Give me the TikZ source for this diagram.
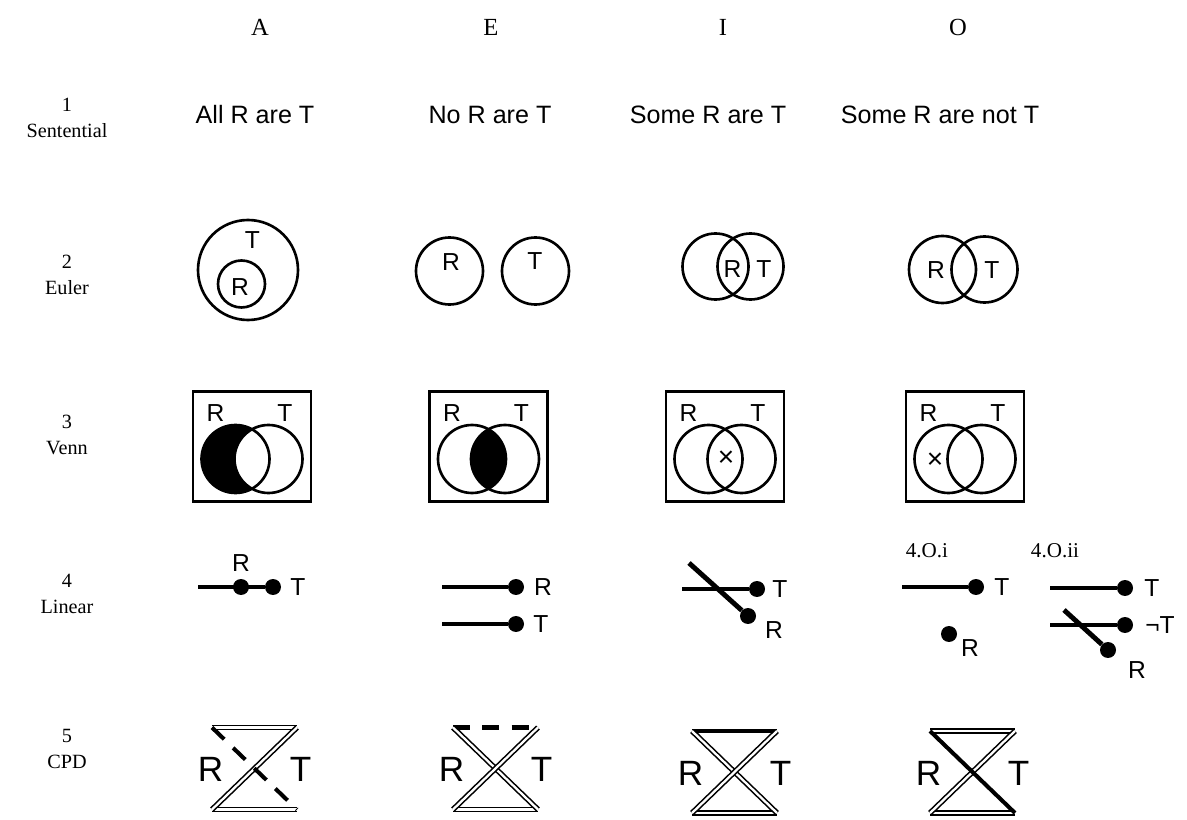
\documentclass[tikz,border=0pt]{standalone}
\usepackage{fontspec}
\setmainfont{Liberation Serif}
\setsansfont{Liberation Sans}
\usetikzlibrary{positioning}

\begin{document}
\begin{tikzpicture}[x=0.02cm, y=-0.02cm,
  hdr/.style={font=\fontsize{14}{16}\selectfont},
  rowlbl/.style={align=center, font=\fontsize{11.5}{14.5}\selectfont},
  stmt/.style={font=\sffamily\fontsize{14.3}{16}\selectfont},
  lbl/.style={inner sep=0pt, font=\sffamily\fontsize{14}{16}\selectfont},
  big/.style={inner sep=0pt, font=\sffamily\fontsize{20}{22}\selectfont},
  sub/.style={inner sep=0pt, font=\fontsize{12}{14}\selectfont},
  ring/.style={line width=1.5pt},
  frame/.style={line width=1.4pt},
  dot/.style={circle, fill, inner sep=0pt, minimum size=0.32cm},
  bar/.style={line width=2.8pt},
  dbl/.style={double, line width=0.9pt, double distance=1.3pt},
  dsh/.style={line width=2.3pt, dash pattern=on 9.6pt off 7.1pt},
  thk/.style={line width=2.3pt}
]
  \useasboundingbox (0,0) rectangle (1187,820);

  % heads
  \foreach \c/\x in {A/260,E/491,I/723,O/958}
    \node[hdr] (h\c) at (\x,27) {\c};
  \foreach \r/\y/\t in {1/118/Sentential,2/275/Euler,3/435/Venn,4/594/Linear,5/749/CPD}
    \node[rowlbl] (r\r) at (67,\y) {\r\\\t};

  % 1 sentential
  \node[stmt] (sA) at (255,115) {All R are T};
  \node[stmt] (sE) at (490,115) {No R are T};
  \node[stmt] (sI) at (708,115) {Some R are T};
  \node[stmt] (sO) at (940,115) {Some R are not T};

  % 2 euler
  \draw[ring] (248,270) circle[radius=50];
  \draw[ring] (241.5,284) circle[radius=23.5];
  \node[lbl] (eAT) at (252.5,240.5) {T};
  \node[lbl] (eAR) at (240,287) {R};
  \draw[ring] (449.5,271) circle[radius=33.5];
  \draw[ring] (535.5,271) circle[radius=33.5];
  \node[lbl] (eER) at (451,262) {R};
  \node[lbl] (eET) at (535,261) {T};
  \draw[ring] (715.5,266.5) circle[radius=33];
  \draw[ring] (750.5,266.5) circle[radius=33];
  \node[lbl] (eIR) at (732.5,269) {R};
  \node[lbl] (eIT) at (764,269) {T};
  \draw[ring] (942.5,269.5) circle[radius=33.5];
  \draw[ring] (984.5,269.5) circle[radius=33];
  \node[lbl] (eOR) at (936,270) {R};
  \node[lbl] (eOT) at (992,270) {T};

  % 3 venn
  \fill (235.5,459) circle[radius=34];
  \begin{scope}
    \clip (235.5,459) circle[radius=34];
    \fill[white] (268.5,459) circle[radius=34];
  \end{scope}
  \begin{scope}
    \clip (472,459) circle[radius=34];
    \fill (505,459) circle[radius=34];
  \end{scope}
  \foreach \c/\x in {A/252,E/488.5,I/725,O/965} {
    \draw[frame] (\x-59,391.5) rectangle (\x+59,501.5);
    \draw[ring] (\x-16.5,459) circle[radius=34];
    \draw[ring] (\x+16.5,459) circle[radius=34];
    \node[lbl] (v\c R) at (\x-36.5,413) {R};
    \node[lbl] (v\c T) at (\x+33,413) {T};
  }
  \node[lbl, font=\sffamily\fontsize{16}{18}\selectfont] (vIx) at (726,459) {×};
  \node[lbl, font=\sffamily\fontsize{16}{18}\selectfont] (vOx) at (935,461) {×};

  % 4 linear
  \coordinate (lA0) at (198,587);
  \node[dot] (lA1) at (241,587) {};
  \node[dot] (lA2) at (273,587) {};
  \draw[bar] (lA0) -- (lA2);
  \node[lbl] (lAR) at (241,563) {R};
  \node[lbl] (lAT) at (298,587) {T};

  \coordinate (lE0) at (442,587);
  \coordinate (lE1) at (442,624);
  \node[dot] (lER) at (516,587) {};
  \node[dot] (lET) at (516,624) {};
  \draw[bar] (lE0) -- (lER);
  \draw[bar] (lE1) -- (lET);
  \node[lbl] (lERl) at (543,587) {R};
  \node[lbl] (lETl) at (541,624) {T};

  \coordinate (lI0) at (682,589);
  \coordinate (lI1) at (689,563);
  \node[dot] (lIT) at (757,589) {};
  \node[dot] (lIR) at (748,616) {};
  \draw[bar] (lI0) -- (lIT);
  \draw[bar] (lI1) -- (lIR);
  \node[lbl] (lITl) at (780,589) {T};
  \node[lbl] (lIRl) at (774,630) {R};

  \node[sub] (oi) at (927,551) {4.O.i};
  \coordinate (lO0) at (902,587);
  \node[dot] (lOT) at (976,587) {};
  \draw[bar] (lO0) -- (lOT);
  \node[lbl] (lOTl) at (1002,587) {T};
  \node[dot] (lOR) at (949,634) {};
  \node[lbl] (lORl) at (970,648) {R};

  \node[sub] (oii) at (1055,551) {4.O.ii};
  \coordinate (lP0) at (1050,588);
  \coordinate (lP1) at (1050,625);
  \coordinate (lP2) at (1064,610);
  \node[dot] (lPT) at (1125,588) {};
  \node[dot] (lPN) at (1125,625) {};
  \node[dot] (lPR) at (1108,650) {};
  \draw[bar] (lP0) -- (lPT);
  \draw[bar] (lP1) -- (lPN);
  \draw[bar] (lP2) -- (lPR);
  \node[lbl] (lPTl) at (1152,588) {T};
  \node[lbl] (lPNl) at (1160,625) {¬T};
  \node[lbl] (lPRl) at (1137,670) {R};

  % 5 cpd
  \foreach \c/\x/\y in {A/254.5/768.5,E/495.5/768.5,I/734.5/772,O/972.5/772} {
    \coordinate (\c tl) at (\x-42.5,\y-41);
    \coordinate (\c tr) at (\x+42.5,\y-41);
    \coordinate (\c bl) at (\x-42.5,\y+41);
    \coordinate (\c br) at (\x+42.5,\y+41);
    \node[big] (c\c R) at (\x-44,\y+1) {R};
    \node[big] (c\c T) at (\x+46,\y+1) {T};
    \draw[dbl] (\c bl) -- (\c br);
  }
  \draw[dbl] (Atl) -- (Atr);
  \draw[dbl] (Atr) -- (Abl);
  \draw[dsh] (Atl) -- (Abr);
  \draw[dsh] (Etl) -- (Etr);
  \draw[dbl] (Etl) -- (Ebr);
  \draw[dbl] (Etr) -- (Ebl);
  \draw[thk] (Itl) -- (Itr);
  \draw[dbl] (Itl) -- (Ibr);
  \draw[dbl] (Itr) -- (Ibl);
  \draw[dbl] (Otl) -- (Otr);
  \draw[dbl] (Otr) -- (Obl);
  \draw[thk] (Otl) -- (Obr);
\end{tikzpicture}
\end{document}
